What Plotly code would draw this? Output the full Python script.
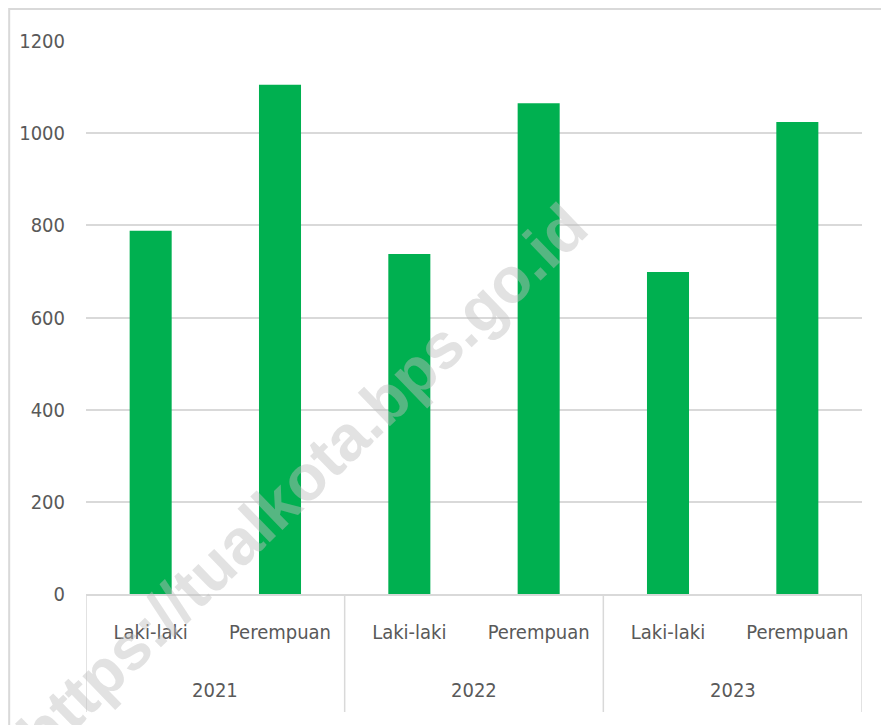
import plotly.graph_objects as go

years = ["2021", "2021", "2022", "2022", "2023", "2023"]
genders = ["Laki-laki", "Perempuan", "Laki-laki", "Perempuan", "Laki-laki", "Perempuan"]
values = [788, 1105, 738, 1065, 699, 1024]
y_ticks = [0, 200, 400, 600, 800, 1000, 1200]

FONT = "DejaVu Sans Condensed, Liberation Sans Narrow, sans-serif"
TXT = "#595959"
GRID = "#d9d9d9"

# unique category keys, shown with the gender as tick text
keys = [f"{y} {g}" for y, g in zip(years, genders)]

fig = go.Figure()
fig.add_trace(go.Bar(
    x=keys,
    y=values,
    marker=dict(color="#00b050", line=dict(width=0)),
    width=0.325,
    hoverinfo="x+y",
))

# group (year) row: label in the middle of each group, dividers at group edges
group_names = []
for y in years:
    if y not in group_names:
        group_names.append(y)
annotations = []
shapes = []
edges = set()
for yr in group_names:
    idx = [i for i, y in enumerate(years) if y == yr]
    annotations.append(dict(
        text=yr, xref="x", yref="paper", x=sum(idx) / len(idx), y=-0.1736,
        xanchor="center", yanchor="middle", showarrow=False,
        font=dict(family=FONT, size=20, color=TXT),
    ))
    edges.add(min(idx) - 0.5)
    edges.add(max(idx) + 0.5)
for e in sorted(edges):
    shapes.append(dict(type="line", xref="x", yref="paper",
                       x0=e, x1=e, y0=0, y1=-0.2134,
                       line=dict(color=GRID, width=1.5)))

shapes.append(dict(type="rect", xref="paper", yref="paper",
                   x0=-0.099, x1=1.1, y0=-0.3, y1=1.058,
                   line=dict(color=GRID, width=2), layer="below"))

annotations.append(dict(
    text="<b>https://tualkota.bps.go.id</b>",
    xref="paper", yref="paper", x=0.279, y=0.206,
    xanchor="center", yanchor="middle",
    showarrow=False, textangle=-44,
    font=dict(family="Liberation Sans, Arial, sans-serif", size=64, color="rgba(190,190,190,0.45)"),
))

fig.update_layout(
    width=889, height=725,
    margin=dict(l=78, r=35, t=33, b=139),
    paper_bgcolor="white", plot_bgcolor="white",
    showlegend=False,
    font=dict(family=FONT, size=20, color=TXT),
    xaxis=dict(
        type="category",
        range=[-0.5, len(keys) - 0.5],
        automargin=False,
        tickvals=keys, ticktext=genders,
        showline=True, linecolor=GRID, linewidth=1.5,
        showgrid=False,
        tickfont=dict(family=FONT, size=20, color=TXT),
        tickangle=0,
        ticks="", ticklen=0,
        ticklabelstandoff=19,
    ),
    yaxis=dict(
        range=[0, 1200],
        automargin=False,
        tickvals=y_ticks,
        showgrid=True, gridcolor=GRID, gridwidth=1.5,
        zeroline=False, showline=False,
        tickfont=dict(family=FONT, size=20, color=TXT),
        ticklabelstandoff=20,
    ),
    shapes=shapes,
    annotations=annotations,
)

fig.write_html("out.html")
